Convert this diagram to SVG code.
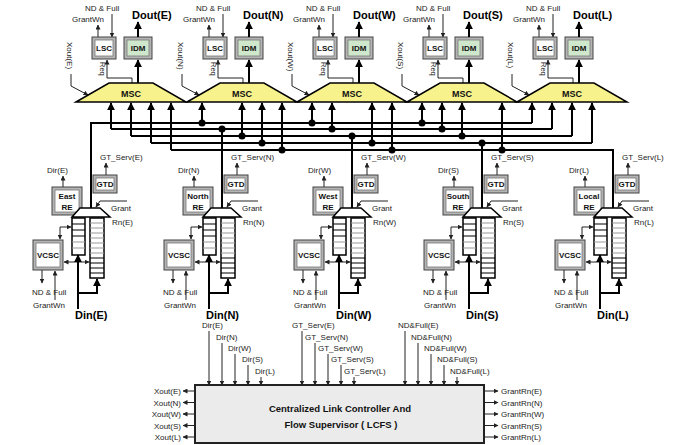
<svg xmlns="http://www.w3.org/2000/svg" xmlns:xlink="http://www.w3.org/1999/xlink" width="682" height="445" viewBox="0 0 682 445">
<defs>
<style>
.t{font-family:"Liberation Sans",Arial,sans-serif;font-size:8px;fill:#222}
.s{font-family:"Liberation Sans",Arial,sans-serif;font-size:7.5px;fill:#222}
.b{font-family:"Liberation Sans",Arial,sans-serif;font-weight:bold;font-size:8px;fill:#111;text-anchor:middle}
.m{font-family:"Liberation Sans",Arial,sans-serif;font-weight:bold;font-size:9px;fill:#111;text-anchor:middle}
.d{font-family:"Liberation Sans",Arial,sans-serif;font-weight:bold;font-size:11px;fill:#000}
.h{font-family:"Liberation Sans",Arial,sans-serif;font-weight:bold;font-size:9.5px;fill:#111;text-anchor:middle}
.l{stroke:#222;stroke-width:1;fill:none}
.k{stroke:#000;stroke-width:2;fill:none}
.fr{fill:#b4b4b4;stroke:#444;stroke-width:1}
.in{fill:#fff;stroke:#777;stroke-width:0.8}
.gr{fill:#cfe8cc;stroke:#777;stroke-width:0.8}
.msc{fill:#f8f28c;stroke:#000;stroke-width:1.5}
.col{fill:#fff;stroke:#000;stroke-width:1.5}
.mux{fill:#fff;stroke:#000;stroke-width:1.5}
.rw{stroke:#999;stroke-width:1}
.rb{stroke:#000;stroke-width:1.2}
.dot{fill:#000}
</style>
<marker id="a" viewBox="0 0 10 10" refX="9" refY="5" markerWidth="5" markerHeight="5" markerUnits="userSpaceOnUse" orient="auto-start-reverse"><path d="M0,0L10,5L0,10z" fill="#222"/></marker>
<marker id="b" viewBox="0 0 10 10" refX="9" refY="5" markerWidth="8" markerHeight="8" markerUnits="userSpaceOnUse" orient="auto-start-reverse"><path d="M0,0L10,5L0,10z" fill="#000"/></marker>
<g id="fifo">
<rect class="col" x="-19" y="218" width="13" height="37"/>
<path class="rb" d="M-19,224h13M-19,230h13M-19,236h13"/>
<path class="rw" d="M-19,242h13M-19,248h13"/>
<rect class="col" x="-1" y="218" width="14" height="60"/>
<path class="rw" d="M-1,223h14M-1,228h14M-1,233h14M-1,238h14M-1,243h14M-1,248h14M-1,253h14"/>
<path class="rb" d="M-1,258h14M-1,263h14M-1,268h14M-1,273h14"/>
</g>
</defs>
<rect width="682" height="445" fill="#fff"/>

<!-- Output blocks -->
<g id="out-E">
<text class="t" x="85" y="11">ND &amp; Full</text>
<text class="t" x="72" y="22">GrantWn</text>
<line class="l" x1="98" y1="37" x2="98" y2="25" marker-end="url(#a)"/>
<line class="l" x1="112" y1="14" x2="112" y2="37" marker-end="url(#a)"/>
<rect class="fr" x="92" y="37" width="24" height="22"/><rect class="in" x="95" y="40" width="18" height="16"/>
<text class="b" x="104" y="51">LSC</text>
<rect class="fr" x="124" y="37" width="28" height="22"/><rect class="gr" x="127" y="40" width="22" height="16"/>
<text class="b" x="138" y="51">IDM</text>
<line class="k" x1="138" y1="37" x2="138" y2="22" marker-end="url(#b)"/>
<text class="d" x="132" y="19">Dout(E)</text>
<line class="k" x1="138" y1="83" x2="138" y2="60" marker-end="url(#b)"/>
<polyline class="l" points="132,83 132,78 107,78 107,60" marker-end="url(#a)"/>
<text class="s" transform="translate(100,62) rotate(90)">Req</text>
<text class="t" transform="translate(67,42) rotate(90)">Xout(E)</text>
<path class="l" d="M71,74V86L88,95" marker-end="url(#a)"/>
<polygon class="msc" points="76,102 109,83 153,83 186,102"/>
<text class="m" x="131" y="97">MSC</text>
</g>
<g id="out-N">
<text class="t" x="196" y="11">ND &amp; Full</text>
<text class="t" x="183" y="22">GrantWn</text>
<line class="l" x1="209" y1="37" x2="209" y2="25" marker-end="url(#a)"/>
<line class="l" x1="223" y1="14" x2="223" y2="37" marker-end="url(#a)"/>
<rect class="fr" x="203" y="37" width="24" height="22"/><rect class="in" x="206" y="40" width="18" height="16"/>
<text class="b" x="215" y="51">LSC</text>
<rect class="fr" x="235" y="37" width="28" height="22"/><rect class="gr" x="238" y="40" width="22" height="16"/>
<text class="b" x="249" y="51">IDM</text>
<line class="k" x1="249" y1="37" x2="249" y2="22" marker-end="url(#b)"/>
<text class="d" x="243" y="19">Dout(N)</text>
<line class="k" x1="249" y1="83" x2="249" y2="60" marker-end="url(#b)"/>
<polyline class="l" points="243,83 243,78 218,78 218,60" marker-end="url(#a)"/>
<text class="s" transform="translate(211,62) rotate(90)">Req</text>
<text class="t" transform="translate(178,42) rotate(90)">Xout(N)</text>
<path class="l" d="M182,74V86L199,95" marker-end="url(#a)"/>
<polygon class="msc" points="187,102 220,83 264,83 297,102"/>
<text class="m" x="242" y="97">MSC</text>
</g>
<g id="out-W">
<text class="t" x="306" y="11">ND &amp; Full</text>
<text class="t" x="293" y="22">GrantWn</text>
<line class="l" x1="319" y1="37" x2="319" y2="25" marker-end="url(#a)"/>
<line class="l" x1="333" y1="14" x2="333" y2="37" marker-end="url(#a)"/>
<rect class="fr" x="313" y="37" width="24" height="22"/><rect class="in" x="316" y="40" width="18" height="16"/>
<text class="b" x="325" y="51">LSC</text>
<rect class="fr" x="345" y="37" width="28" height="22"/><rect class="gr" x="348" y="40" width="22" height="16"/>
<text class="b" x="359" y="51">IDM</text>
<line class="k" x1="359" y1="37" x2="359" y2="22" marker-end="url(#b)"/>
<text class="d" x="353" y="19">Dout(W)</text>
<line class="k" x1="359" y1="83" x2="359" y2="60" marker-end="url(#b)"/>
<polyline class="l" points="353,83 353,78 328,78 328,60" marker-end="url(#a)"/>
<text class="s" transform="translate(321,62) rotate(90)">Req</text>
<text class="t" transform="translate(288,42) rotate(90)">Xout(W)</text>
<path class="l" d="M292,74V86L309,95" marker-end="url(#a)"/>
<polygon class="msc" points="297,102 330,83 374,83 407,102"/>
<text class="m" x="352" y="97">MSC</text>
</g>
<g id="out-S">
<text class="t" x="416" y="11">ND &amp; Full</text>
<text class="t" x="403" y="22">GrantWn</text>
<line class="l" x1="429" y1="37" x2="429" y2="25" marker-end="url(#a)"/>
<line class="l" x1="443" y1="14" x2="443" y2="37" marker-end="url(#a)"/>
<rect class="fr" x="423" y="37" width="24" height="22"/><rect class="in" x="426" y="40" width="18" height="16"/>
<text class="b" x="435" y="51">LSC</text>
<rect class="fr" x="455" y="37" width="28" height="22"/><rect class="gr" x="458" y="40" width="22" height="16"/>
<text class="b" x="469" y="51">IDM</text>
<line class="k" x1="469" y1="37" x2="469" y2="22" marker-end="url(#b)"/>
<text class="d" x="463" y="19">Dout(S)</text>
<line class="k" x1="469" y1="83" x2="469" y2="60" marker-end="url(#b)"/>
<polyline class="l" points="463,83 463,78 438,78 438,60" marker-end="url(#a)"/>
<text class="s" transform="translate(431,62) rotate(90)">Req</text>
<text class="t" transform="translate(398,42) rotate(90)">Xout(S)</text>
<path class="l" d="M402,74V86L419,95" marker-end="url(#a)"/>
<polygon class="msc" points="407,102 440,83 484,83 517,102"/>
<text class="m" x="462" y="97">MSC</text>
</g>
<g id="out-L">
<text class="t" x="526" y="11">ND &amp; Full</text>
<text class="t" x="513" y="22">GrantWn</text>
<line class="l" x1="539" y1="37" x2="539" y2="25" marker-end="url(#a)"/>
<line class="l" x1="553" y1="14" x2="553" y2="37" marker-end="url(#a)"/>
<rect class="fr" x="533" y="37" width="24" height="22"/><rect class="in" x="536" y="40" width="18" height="16"/>
<text class="b" x="545" y="51">LSC</text>
<rect class="fr" x="565" y="37" width="28" height="22"/><rect class="gr" x="568" y="40" width="22" height="16"/>
<text class="b" x="579" y="51">IDM</text>
<line class="k" x1="579" y1="37" x2="579" y2="22" marker-end="url(#b)"/>
<text class="d" x="573" y="19">Dout(L)</text>
<line class="k" x1="579" y1="83" x2="579" y2="60" marker-end="url(#b)"/>
<polyline class="l" points="573,83 573,78 548,78 548,60" marker-end="url(#a)"/>
<text class="s" transform="translate(541,62) rotate(90)">Req</text>
<text class="t" transform="translate(508,42) rotate(90)">Xout(L)</text>
<path class="l" d="M512,74V86L529,95" marker-end="url(#a)"/>
<polygon class="msc" points="517,102 550,83 594,83 627,102"/>
<text class="m" x="572" y="97">MSC</text>
</g>

<!-- Crossbar connectors -->
<g id="connectors">
<path class="k" d="M91,208V123H532M111,129H552M131,136H572M151,143H592M171,150H613V208M222,129V208M352,136V208M482,143V208"/>
<g marker-end="url(#b)">
<line class="k" x1="111" y1="129" x2="111" y2="103"/>
<line class="k" x1="131" y1="136" x2="131" y2="103"/>
<line class="k" x1="151" y1="143" x2="151" y2="103"/>
<line class="k" x1="171" y1="150" x2="171" y2="103"/>
<line class="k" x1="202" y1="123" x2="202" y2="103"/>
<line class="k" x1="242" y1="136" x2="242" y2="103"/>
<line class="k" x1="262" y1="143" x2="262" y2="103"/>
<line class="k" x1="282" y1="150" x2="282" y2="103"/>
<line class="k" x1="312" y1="123" x2="312" y2="103"/>
<line class="k" x1="332" y1="129" x2="332" y2="103"/>
<line class="k" x1="372" y1="143" x2="372" y2="103"/>
<line class="k" x1="392" y1="150" x2="392" y2="103"/>
<line class="k" x1="422" y1="123" x2="422" y2="103"/>
<line class="k" x1="442" y1="129" x2="442" y2="103"/>
<line class="k" x1="462" y1="136" x2="462" y2="103"/>
<line class="k" x1="502" y1="150" x2="502" y2="103"/>
<line class="k" x1="532" y1="123" x2="532" y2="103"/>
<line class="k" x1="552" y1="129" x2="552" y2="103"/>
<line class="k" x1="572" y1="136" x2="572" y2="103"/>
<line class="k" x1="592" y1="143" x2="592" y2="103"/>
</g>
<g class="dot">
<circle cx="202" cy="123" r="3.5"/><circle cx="312" cy="123" r="3.5"/><circle cx="422" cy="123" r="3.5"/>
<circle cx="222" cy="129" r="3.5"/><circle cx="332" cy="129" r="3.5"/><circle cx="442" cy="129" r="3.5"/>
<circle cx="242" cy="136" r="3.5"/><circle cx="352" cy="136" r="3.5"/><circle cx="462" cy="136" r="3.5"/>
<circle cx="262" cy="143" r="3.5"/><circle cx="372" cy="143" r="3.5"/><circle cx="482" cy="143" r="3.5"/>
<circle cx="282" cy="150" r="3.5"/><circle cx="392" cy="150" r="3.5"/><circle cx="502" cy="150" r="3.5"/>
</g>
</g>

<!-- Input blocks -->
<g id="in-E">
<rect class="fr" x="93" y="175" width="24" height="18"/><rect class="in" x="96" y="178" width="18" height="12"/>
<text class="b" x="105" y="187">GTD</text>
<line class="l" x1="106" y1="175" x2="106" y2="163" marker-end="url(#a)"/>
<text class="t" x="100" y="160">GT_Serv(E)</text>
<rect class="fr" x="52" y="187" width="30" height="28"/><rect class="in" x="55" y="190" width="24" height="22"/>
<text class="b" x="67" y="199">East</text><text class="b" x="67" y="210">RE</text>
<line class="l" x1="63" y1="187" x2="63" y2="176" marker-end="url(#a)"/>
<text class="t" x="47" y="173">Dir(E)</text>
<polygon class="mux" points="80,208 100,208 110,217 72,217"/>
<polyline class="l" points="127,201 100,201 96,207" marker-end="url(#a)"/>
<text class="t" x="111" y="211">Grant</text><text class="t" x="112" y="225">Rn(E)</text>
<use xlink:href="#fifo" x="91"/>
<rect class="fr" x="33" y="240" width="30" height="30"/><rect class="in" x="36" y="243" width="24" height="24"/>
<text class="b" x="48" y="258">VCSC</text>
<path class="l" d="M71,227H60V239" marker-start="url(#a)" marker-end="url(#a)"/>
<path class="l" d="M64,262H89" marker-start="url(#a)" marker-end="url(#a)"/>
<line class="k" x1="78" y1="309" x2="78" y2="255" marker-end="url(#b)"/>
<path class="k" d="M78,293H97V279" marker-end="url(#b)"/>
<line class="l" x1="42" y1="270" x2="42" y2="283" marker-end="url(#a)"/>
<text class="t" x="32" y="295">ND &amp; Full</text>
<line class="l" x1="55" y1="300" x2="55" y2="271" marker-end="url(#a)"/>
<text class="t" x="33" y="308">GrantWn</text>
<text class="d" x="75" y="319">Din(E)</text>
</g>
<g id="in-N">
<rect class="fr" x="224" y="175" width="24" height="18"/><rect class="in" x="227" y="178" width="18" height="12"/>
<text class="b" x="236" y="187">GTD</text>
<line class="l" x1="237" y1="175" x2="237" y2="163" marker-end="url(#a)"/>
<text class="t" x="231" y="160">GT_Serv(N)</text>
<rect class="fr" x="183" y="187" width="30" height="28"/><rect class="in" x="186" y="190" width="24" height="22"/>
<text class="b" x="198" y="199">North</text><text class="b" x="198" y="210">RE</text>
<line class="l" x1="194" y1="187" x2="194" y2="176" marker-end="url(#a)"/>
<text class="t" x="178" y="173">Dir(N)</text>
<polygon class="mux" points="211,208 231,208 241,217 203,217"/>
<polyline class="l" points="258,201 231,201 227,207" marker-end="url(#a)"/>
<text class="t" x="242" y="211">Grant</text><text class="t" x="243" y="225">Rn(N)</text>
<use xlink:href="#fifo" x="222"/>
<rect class="fr" x="164" y="240" width="30" height="30"/><rect class="in" x="167" y="243" width="24" height="24"/>
<text class="b" x="179" y="258">VCSC</text>
<path class="l" d="M202,227H191V239" marker-start="url(#a)" marker-end="url(#a)"/>
<path class="l" d="M195,262H220" marker-start="url(#a)" marker-end="url(#a)"/>
<line class="k" x1="209" y1="309" x2="209" y2="255" marker-end="url(#b)"/>
<path class="k" d="M209,293H228V279" marker-end="url(#b)"/>
<line class="l" x1="173" y1="270" x2="173" y2="283" marker-end="url(#a)"/>
<text class="t" x="163" y="295">ND &amp; Full</text>
<line class="l" x1="186" y1="300" x2="186" y2="271" marker-end="url(#a)"/>
<text class="t" x="164" y="308">GrantWn</text>
<text class="d" x="206" y="319">Din(N)</text>
</g>
<g id="in-W">
<rect class="fr" x="354" y="175" width="24" height="18"/><rect class="in" x="357" y="178" width="18" height="12"/>
<text class="b" x="366" y="187">GTD</text>
<line class="l" x1="367" y1="175" x2="367" y2="163" marker-end="url(#a)"/>
<text class="t" x="361" y="160">GT_Serv(W)</text>
<rect class="fr" x="313" y="187" width="30" height="28"/><rect class="in" x="316" y="190" width="24" height="22"/>
<text class="b" x="328" y="199">West</text><text class="b" x="328" y="210">RE</text>
<line class="l" x1="324" y1="187" x2="324" y2="176" marker-end="url(#a)"/>
<text class="t" x="308" y="173">Dir(W)</text>
<polygon class="mux" points="341,208 361,208 371,217 333,217"/>
<polyline class="l" points="388,201 361,201 357,207" marker-end="url(#a)"/>
<text class="t" x="372" y="211">Grant</text><text class="t" x="373" y="225">Rn(W)</text>
<use xlink:href="#fifo" x="352"/>
<rect class="fr" x="294" y="240" width="30" height="30"/><rect class="in" x="297" y="243" width="24" height="24"/>
<text class="b" x="309" y="258">VCSC</text>
<path class="l" d="M332,227H321V239" marker-start="url(#a)" marker-end="url(#a)"/>
<path class="l" d="M325,262H350" marker-start="url(#a)" marker-end="url(#a)"/>
<line class="k" x1="339" y1="309" x2="339" y2="255" marker-end="url(#b)"/>
<path class="k" d="M339,293H358V279" marker-end="url(#b)"/>
<line class="l" x1="303" y1="270" x2="303" y2="283" marker-end="url(#a)"/>
<text class="t" x="293" y="295">ND &amp; Full</text>
<line class="l" x1="316" y1="300" x2="316" y2="271" marker-end="url(#a)"/>
<text class="t" x="294" y="308">GrantWn</text>
<text class="d" x="336" y="319">Din(W)</text>
</g>
<g id="in-S">
<rect class="fr" x="484" y="175" width="24" height="18"/><rect class="in" x="487" y="178" width="18" height="12"/>
<text class="b" x="496" y="187">GTD</text>
<line class="l" x1="497" y1="175" x2="497" y2="163" marker-end="url(#a)"/>
<text class="t" x="491" y="160">GT_Serv(S)</text>
<rect class="fr" x="443" y="187" width="30" height="28"/><rect class="in" x="446" y="190" width="24" height="22"/>
<text class="b" x="458" y="199">South</text><text class="b" x="458" y="210">RE</text>
<line class="l" x1="454" y1="187" x2="454" y2="176" marker-end="url(#a)"/>
<text class="t" x="438" y="173">Dir(S)</text>
<polygon class="mux" points="471,208 491,208 501,217 463,217"/>
<polyline class="l" points="518,201 491,201 487,207" marker-end="url(#a)"/>
<text class="t" x="502" y="211">Grant</text><text class="t" x="503" y="225">Rn(S)</text>
<use xlink:href="#fifo" x="482"/>
<rect class="fr" x="424" y="240" width="30" height="30"/><rect class="in" x="427" y="243" width="24" height="24"/>
<text class="b" x="439" y="258">VCSC</text>
<path class="l" d="M462,227H451V239" marker-start="url(#a)" marker-end="url(#a)"/>
<path class="l" d="M455,262H480" marker-start="url(#a)" marker-end="url(#a)"/>
<line class="k" x1="469" y1="309" x2="469" y2="255" marker-end="url(#b)"/>
<path class="k" d="M469,293H488V279" marker-end="url(#b)"/>
<line class="l" x1="433" y1="270" x2="433" y2="283" marker-end="url(#a)"/>
<text class="t" x="423" y="295">ND &amp; Full</text>
<line class="l" x1="446" y1="300" x2="446" y2="271" marker-end="url(#a)"/>
<text class="t" x="424" y="308">GrantWn</text>
<text class="d" x="466" y="319">Din(S)</text>
</g>
<g id="in-L">
<rect class="fr" x="615" y="175" width="24" height="18"/><rect class="in" x="618" y="178" width="18" height="12"/>
<text class="b" x="627" y="187">GTD</text>
<line class="l" x1="628" y1="175" x2="628" y2="163" marker-end="url(#a)"/>
<text class="t" x="622" y="160">GT_Serv(L)</text>
<rect class="fr" x="574" y="187" width="30" height="28"/><rect class="in" x="577" y="190" width="24" height="22"/>
<text class="b" x="589" y="199">Local</text><text class="b" x="589" y="210">RE</text>
<line class="l" x1="585" y1="187" x2="585" y2="176" marker-end="url(#a)"/>
<text class="t" x="569" y="173">Dir(L)</text>
<polygon class="mux" points="602,208 622,208 632,217 594,217"/>
<polyline class="l" points="649,201 622,201 618,207" marker-end="url(#a)"/>
<text class="t" x="633" y="211">Grant</text><text class="t" x="634" y="225">Rn(L)</text>
<use xlink:href="#fifo" x="613"/>
<rect class="fr" x="555" y="240" width="30" height="30"/><rect class="in" x="558" y="243" width="24" height="24"/>
<text class="b" x="570" y="258">VCSC</text>
<path class="l" d="M593,227H582V239" marker-start="url(#a)" marker-end="url(#a)"/>
<path class="l" d="M586,262H611" marker-start="url(#a)" marker-end="url(#a)"/>
<line class="k" x1="600" y1="309" x2="600" y2="255" marker-end="url(#b)"/>
<path class="k" d="M600,293H619V279" marker-end="url(#b)"/>
<line class="l" x1="564" y1="270" x2="564" y2="283" marker-end="url(#a)"/>
<text class="t" x="554" y="295">ND &amp; Full</text>
<line class="l" x1="577" y1="300" x2="577" y2="271" marker-end="url(#a)"/>
<text class="t" x="555" y="308">GrantWn</text>
<text class="d" x="597" y="319">Din(L)</text>
</g>

<!-- LCFS -->
<g id="lcfs">
<rect x="195" y="385" width="289" height="58" fill="#ebebeb" stroke="#222" stroke-width="2"/>
<text class="h" x="340" y="412">Centralized Link Controller And</text>
<text class="h" x="341" y="428">Flow Supervisor ( LCFS )</text>
</g>
<g id="lcfs-io">
<g marker-end="url(#a)" class="l">
<line x1="209" y1="331" x2="209" y2="385"/><line x1="222" y1="343" x2="222" y2="385"/><line x1="235" y1="354" x2="235" y2="385"/><line x1="248" y1="365" x2="248" y2="385"/><line x1="261" y1="377" x2="261" y2="385"/>
<line x1="302" y1="331" x2="302" y2="385"/><line x1="315" y1="343" x2="315" y2="385"/><line x1="328" y1="354" x2="328" y2="385"/><line x1="341" y1="365" x2="341" y2="385"/><line x1="354" y1="377" x2="354" y2="385"/>
<line x1="405" y1="331" x2="405" y2="385"/><line x1="418" y1="343" x2="418" y2="385"/><line x1="431" y1="354" x2="431" y2="385"/><line x1="444" y1="365" x2="444" y2="385"/><line x1="457" y1="377" x2="457" y2="385"/>
<line x1="195" y1="391" x2="183" y2="391"/><line x1="195" y1="402.5" x2="183" y2="402.5"/><line x1="195" y1="414" x2="183" y2="414"/><line x1="195" y1="425.5" x2="183" y2="425.5"/><line x1="195" y1="437" x2="183" y2="437"/>
<line x1="484" y1="391" x2="498" y2="391"/><line x1="484" y1="402.5" x2="498" y2="402.5"/><line x1="484" y1="414" x2="498" y2="414"/><line x1="484" y1="425.5" x2="498" y2="425.5"/><line x1="484" y1="437" x2="498" y2="437"/>
</g>
<text class="t" x="202" y="328">Dir(E)</text><text class="t" x="216" y="340">Dir(N)</text><text class="t" x="228" y="351">Dir(W)</text><text class="t" x="242" y="362">Dir(S)</text><text class="t" x="255" y="374">Dir(L)</text>
<text class="t" x="292" y="328">GT_Serv(E)</text><text class="t" x="305" y="340">GT_Serv(N)</text><text class="t" x="318" y="351">GT_Serv(W)</text><text class="t" x="331" y="362">GT_Serv(S)</text><text class="t" x="344" y="374">GT_Serv(L)</text>
<text class="t" x="398" y="328">ND&amp;Full(E)</text><text class="t" x="411" y="340">ND&amp;Full(N)</text><text class="t" x="424" y="351">ND&amp;Full(W)</text><text class="t" x="437" y="362">ND&amp;Full(S)</text><text class="t" x="450" y="374">ND&amp;Full(L)</text>
<g class="t" text-anchor="end">
<text x="181" y="394">Xout(E)</text><text x="181" y="405.5">Xout(N)</text><text x="181" y="417">Xout(W)</text><text x="181" y="428.5">Xout(S)</text><text x="181" y="440">Xout(L)</text>
</g>
<text class="t" x="501" y="394">GrantRn(E)</text><text class="t" x="501" y="405.5">GrantRn(N)</text><text class="t" x="501" y="417">GrantRn(W)</text><text class="t" x="501" y="428.5">GrantRn(S)</text><text class="t" x="501" y="440">GrantRn(L)</text>
</g>
</svg>
